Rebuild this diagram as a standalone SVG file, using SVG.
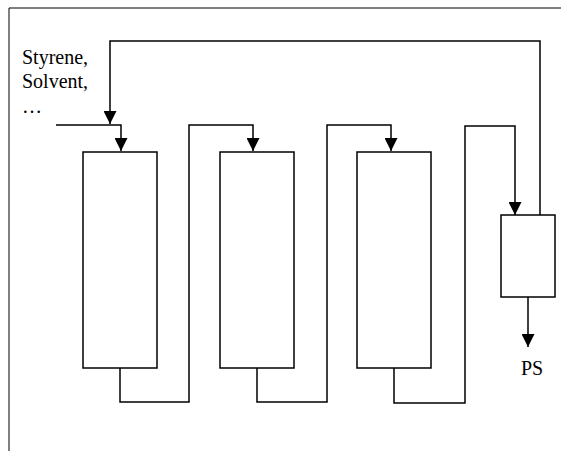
<svg xmlns="http://www.w3.org/2000/svg" width="561" height="451" viewBox="0 0 561 451">
<style>
.ln{fill:none;stroke:#000;stroke-width:1.5}
.fr{fill:none;stroke:#000;stroke-width:1}
.bx{fill:#fff;stroke:#000;stroke-width:1.5}
.t{font-family:"Liberation Serif","Times New Roman",serif;font-size:20px;fill:#000}
</style>
<defs>
<marker id="ah" markerWidth="13" markerHeight="13" refX="13" refY="6.5" orient="auto" markerUnits="userSpaceOnUse">
<path d="M0,0 L13,6.5 L0,13 Z" fill="#000"/>
</marker>
</defs>
<rect width="561" height="451" fill="#fff"/>
<g id="frame"><path class="fr" d="M9,451 V8 H561"/></g>
<g id="connectors">
<path class="ln" d="M540,215 V41 H110 V124" marker-end="url(#ah)"/>
<path class="ln" d="M56,125 H121 V151" marker-end="url(#ah)"/>
<path class="ln" d="M120,368 V402 H189 V125 H253 V151" marker-end="url(#ah)"/>
<path class="ln" d="M257,368 V402 H327 V125 H391 V151" marker-end="url(#ah)"/>
<path class="ln" d="M394,368 V403 H465 V126 H515 V215" marker-end="url(#ah)"/>
<path class="ln" d="M528,297 V347" marker-end="url(#ah)"/>
</g>
<g id="reactor1"><rect class="bx" x="83" y="152" width="74" height="216"/></g>
<g id="reactor2"><rect class="bx" x="220" y="152" width="74" height="216"/></g>
<g id="reactor3"><rect class="bx" x="357" y="152" width="74" height="216"/></g>
<g id="separator"><rect class="bx" x="501" y="215" width="54" height="82"/></g>
<g id="labels">
<text class="t" x="22" y="64">Styrene,</text>
<text class="t" x="22" y="88">Solvent,</text>
<text class="t" x="22" y="113">…</text>
<text class="t" x="521" y="375">PS</text>
</g>
</svg>
